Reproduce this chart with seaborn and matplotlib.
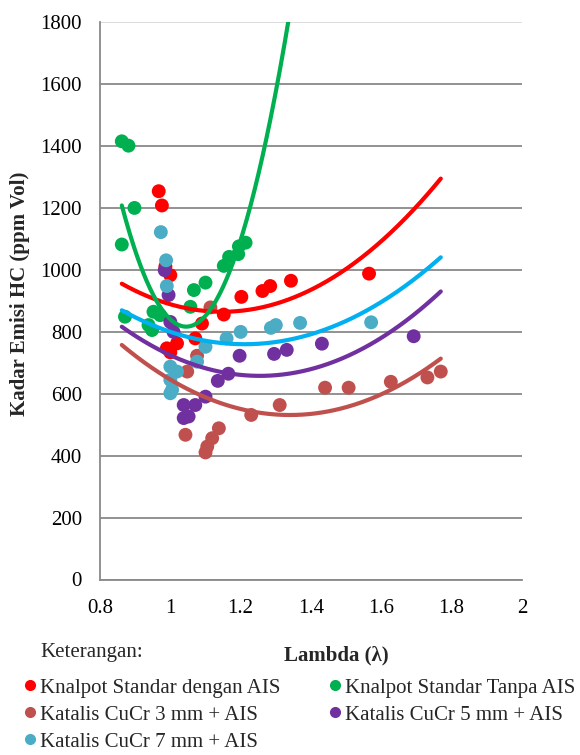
import numpy as np
import pandas as pd
import matplotlib
matplotlib.use("Agg")
import matplotlib.pyplot as plt
from matplotlib.lines import Line2D
import seaborn as sns

# Series labels and colours
series_names = [
    "Knalpot Standar dengan AIS",
    "Knalpot Standar Tanpa AIS",
    "Katalis CuCr 3 mm + AIS",
    "Katalis CuCr 5 mm + AIS",
    "Katalis CuCr 7 mm + AIS",
]
point_colors = ["#FF0000", "#00B050", "#C0504D", "#7030A0", "#4BACC6"]
trend_colors = ["#FF0000", "#00B050", "#C0504D", "#7030A0", "#00B0F0"]

# Measured lambda (λ) and HC emission (ppm Vol) per configuration
lambda_std_ais = [0.967, 0.976, 0.986, 1.000, 0.990, 1.000, 1.019, 1.071, 1.090,
                  1.152, 1.202, 1.262, 1.284, 1.343, 1.565]
hc_std_ais = [1253, 1207, 1010, 982, 746, 733, 762, 778, 826,
              855, 912, 931, 947, 964, 987]

lambda_std_tanpa = [0.862, 0.881, 0.898, 0.862, 0.871, 0.938, 0.948, 0.952, 0.971,
                    1.057, 1.067, 1.100, 1.152, 1.167, 1.193, 1.195, 1.214]
hc_std_tanpa = [1414, 1400, 1199, 1081, 848, 821, 805, 864, 853,
                880, 934, 958, 1012, 1041, 1050, 1075, 1087]

lambda_cucr3 = [1.114, 1.076, 1.048, 1.043, 1.138, 1.119, 1.105, 1.100, 1.230,
                1.311, 1.440, 1.507, 1.627, 1.731, 1.769]
hc_cucr3 = [878, 722, 671, 467, 488, 456, 429, 410, 531,
            563, 619, 619, 638, 652, 671]

lambda_cucr5 = [0.984, 0.995, 1.000, 1.009, 1.038, 1.071, 1.052, 1.038, 1.100,
                1.135, 1.165, 1.197, 1.295, 1.331, 1.431, 1.692]
hc_cucr5 = [998, 918, 831, 799, 563, 563, 526, 521, 590,
            641, 664, 722, 728, 741, 761, 785]

lambda_cucr7 = [0.973, 0.988, 0.990, 1.000, 1.019, 1.000, 1.005, 1.000, 1.076,
                1.100, 1.160, 1.200, 1.286, 1.300, 1.369, 1.571]
hc_cucr7 = [1121, 1030, 947, 687, 671, 644, 612, 601, 703,
            751, 778, 799, 812, 821, 828, 830]

lambdas = [lambda_std_ais, lambda_std_tanpa, lambda_cucr3, lambda_cucr5, lambda_cucr7]
hcs = [hc_std_ais, hc_std_tanpa, hc_cucr3, hc_cucr5, hc_cucr7]

# Polynomial (order 2) trendline values, read at a few lambda positions
trend_lambda = [0.862, 1.0, 1.2, 1.4, 1.6, 1.769]
trend_std_ais = [958, 886, 862, 932, 1106, 1286]
trend_cucr3 = [745, 664, 548, 530, 592, 718]
trend_cucr5 = [806, 742, 654, 672, 785, 929]
trend_cucr7 = [862, 809, 762, 784, 895, 1042]
trend_lambda_tanpa = [0.862, 1.0, 1.048, 1.2, 1.3, 1.336]
trend_std_tanpa = [1197, 854, 833, 1053, 1600, 1800]

trend_sets = [
    (trend_lambda, trend_std_ais),
    (trend_lambda_tanpa, trend_std_tanpa),
    (trend_lambda, trend_cucr3),
    (trend_lambda, trend_cucr5),
    (trend_lambda, trend_cucr7),
]

x_ticks = [0.8, 1.0, 1.2, 1.4, 1.6, 1.8, 2.0]
x_tick_labels = ["0.8", "1", "1.2", "1.4", "1.6", "1.8", "2"]
y_ticks = list(range(0, 2000, 200))

df = pd.concat(
    [pd.DataFrame({"lambda": lx, "hc": hy, "series": name})
     for name, lx, hy in zip(series_names, lambdas, hcs)],
    ignore_index=True,
)

sns.set_theme(style="white")
SERIF = ["Liberation Serif", "DejaVu Serif"]
plt.rcParams["font.family"] = SERIF
FS = 15

W, H = 580, 755
fig = plt.figure(figsize=(W / 100, H / 100), dpi=100)
ax_left, ax_right, ax_top, ax_bottom = 100, 522, 21.7, 579.5
ax = fig.add_axes([ax_left / W, 1 - ax_bottom / H,
                   (ax_right - ax_left) / W, (ax_bottom - ax_top) / H])

sns.scatterplot(data=df, x="lambda", y="hc", hue="series",
                palette=dict(zip(series_names, point_colors)),
                s=100, linewidth=0, alpha=1, legend=False, ax=ax, zorder=2)

# Quadratic trendlines spanning the full lambda range of the measurements
x_lo = min(min(lx) for lx in lambdas)
x_hi = max(max(lx) for lx in lambdas)
x_fit = np.linspace(x_lo, x_hi, 400)
for (tl, th), col in zip(trend_sets, trend_colors):
    coef = np.polyfit(tl, th, 2)
    ax.plot(x_fit, np.polyval(coef, x_fit), color=col, lw=3,
            solid_capstyle="round", zorder=3)

ax.set_xlim(0.8, 2.0)
ax.set_ylim(0, 1800)
ax.set_xticks(x_ticks)
ax.set_xticklabels(x_tick_labels)
ax.set_yticks(y_ticks)
ax.tick_params(axis="both", length=0, labelsize=FS, colors="black")
ax.tick_params(axis="y", pad=13)
ax.tick_params(axis="x", pad=14)
for lbl in ax.get_xticklabels() + ax.get_yticklabels():
    lbl.set_fontfamily(SERIF)
ax.set_xlabel("")
ax.set_ylabel("")

ax.grid(axis="y", color="#898989", lw=1.3)
ax.grid(axis="x", visible=False)
ax.set_axisbelow(True)
ax.yaxis.get_gridlines()[-1].set_color("#D9D9D9")
for side in ["top", "right"]:
    ax.spines[side].set_visible(False)
for side in ["left", "bottom"]:
    ax.spines[side].set_color("#898989")
    ax.spines[side].set_linewidth(1.3)

fig.text(20 / W, 1 - 294 / H, "Kadar Emisi HC (ppm Vol)", rotation=90,
         ha="center", va="center", fontsize=FS, fontweight="bold")
fig.text(336 / W, 1 - 655 / H, "Lambda (λ)", ha="center", va="center",
         fontsize=FS, fontweight="bold")
fig.text(40 / W, 1 - 652 / H, "Keterangan:", ha="left", va="center", fontsize=FS)

handles = [Line2D([], [], marker="o", linestyle="none", markersize=8,
                  markerfacecolor=c, markeredgewidth=0) for c in point_colors]
order = [0, 2, 4, 1, 3]
fig.legend([handles[i] for i in order], [series_names[i] for i in order],
           ncol=2, loc="upper left", bbox_to_anchor=(23.75 / W, 1 - 678 / H),
           frameon=False, fontsize=FS, handlelength=0.6, handletextpad=0.2,
           columnspacing=2.3, labelspacing=0.36, borderpad=0, borderaxespad=0)

fig.savefig("out.png", dpi=100)
